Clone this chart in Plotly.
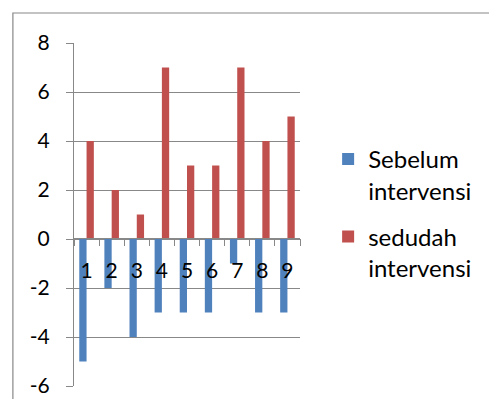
import plotly.graph_objects as go

categories = ["1", "2", "3", "4", "5", "6", "7", "8", "9"]
sebelum = [-5, -2, -4, -3, -3, -3, -1, -3, -3]
sedudah = [4, 2, 1, 7, 3, 3, 7, 4, 5]
series_names = ["Sebelum<br>intervensi", "sedudah<br>intervensi"]
y_ticks = [-6, -4, -2, 0, 2, 4, 6, 8]
y_tick_text = ["-6", "-4", "-2", "0", "2", "4", "6", "8"]

FONT = "Lato, Calibri, sans-serif"
GRID = "#888888"

fig = go.Figure()
fig.add_trace(go.Bar(x=categories, y=sebelum, name=series_names[0], marker_color="#4F81BD",
                     legendgroup="a"))
fig.add_trace(go.Bar(x=categories, y=sedudah, name=series_names[1], marker_color="#C0504D",
                     legendgroup="b"))

# page body has an 8px margin; work in figure coordinates
OFF = 8
W, H = 497 - 2 * OFF, 407 - 2 * OFF
L, R, T, B = 74 - OFF, 307 - OFF, 43 - OFF, 386 - OFF
zero_y = 238 - OFF
zero_frac = (B - zero_y) / (B - T)

fig.update_layout(
    template="none",
    width=W, height=H,
    margin=dict(l=L, r=W - R, t=T, b=H - B, pad=0),
    paper_bgcolor="white", plot_bgcolor="white",
    barmode="group", bargap=0.42, bargroupgap=0,
    font=dict(family=FONT, size=21, color="black"),
    showlegend=True,
    legend=dict(x=(336 - OFF - L) / (R - L), y=(B - (137 - OFF)) / (B - T),
                xanchor="left", yanchor="top",
                valign="top", font=dict(size=24), itemwidth=30, tracegroupgap=12,
                bgcolor="rgba(0,0,0,0)", borderwidth=0),
    xaxis=dict(type="category", anchor="free", position=zero_frac, automargin=False,
               showline=True, linecolor=GRID, linewidth=1,
               ticks="outside", ticklen=7, tickcolor=GRID, tickson="boundaries",
               ticklabelstandoff=14, showgrid=False, tickfont=dict(size=21)),
    yaxis=dict(range=[-6, 8], tickvals=y_ticks, ticktext=y_tick_text, automargin=False,
               showgrid=True, gridcolor=GRID, gridwidth=1,
               zeroline=False, showline=True, linecolor=GRID, linewidth=1,
               ticks="outside", ticklen=7, tickcolor=GRID, ticklabelstandoff=12,
               tickfont=dict(size=21)),
    shapes=[dict(type="rect", xref="paper", yref="paper",
                 x0=(11 - OFF - L) / (R - L), x1=(W + 20 - L) / (R - L),
                 y0=(B - (H + 20)) / (B - T), y1=(B - (13 - OFF)) / (B - T),
                 line=dict(color="#888888", width=1.2), layer="below")],
)

fig.write_html("out.html")
